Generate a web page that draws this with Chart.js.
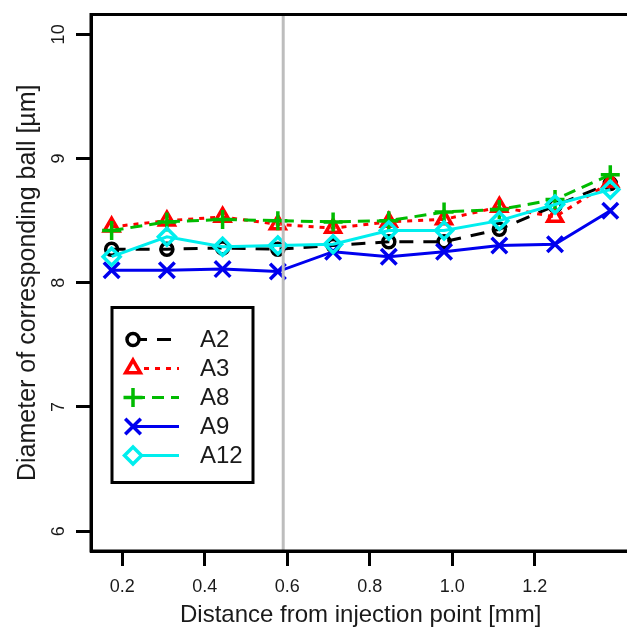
<!DOCTYPE html>
<html>
<head>
<meta charset="utf-8">
<script src="https://cdn.jsdelivr.net/npm/chart.js@4.4.1/dist/chart.umd.min.js"></script>
<style>
    html, body { margin: 0; padding: 0; background: #fff; overflow: hidden; }
    #holder { width: 627px; height: 631px; overflow: hidden; }
</style>
</head>
<body>
<div id="holder"><canvas id="diagram" width="645" height="631"></canvas></div>
<script type="text/javascript">
    // distance from injection point [mm]
    var distances = [0.174, 0.308, 0.443, 0.577, 0.711, 0.846, 0.980, 1.114, 1.249, 1.383];

    // diameter of corresponding ball [um], one list per sample
    var seriesA2  = [8.27, 8.27, 8.28, 8.27, 8.30, 8.33, 8.33, 8.43, 8.62, 8.80];
    var seriesA3  = [8.45, 8.50, 8.53, 8.47, 8.44, 8.49, 8.51, 8.61, 8.53, 8.81];
    var seriesA8  = [8.42, 8.49, 8.51, 8.50, 8.49, 8.50, 8.57, 8.59, 8.67, 8.87];
    var seriesA9  = [8.10, 8.10, 8.11, 8.09, 8.25, 8.21, 8.25, 8.30, 8.31, 8.58];
    var seriesA12 = [8.21, 8.37, 8.29, 8.30, 8.31, 8.42, 8.42, 8.50, 8.63, 8.75];

    var seriesNames = ['A2', 'A3', 'A8', 'A9', 'A12'];
    var xTicks = [0.2, 0.4, 0.6, 0.8, 1.0, 1.2];
    var yTicks = [6, 7, 8, 9, 10];
    var markerLineX = 0.59;   // grey vertical reference line

    var fontFamily = '"Liberation Sans", Arial, Helvetica, sans-serif';
    Chart.defaults.font.family = fontFamily;
    Chart.defaults.color = '#1a1a1a';

    function toPoints(values) {
        return values.map(function(v, i) {
            return {x: distances[i], y: v};
        });
    }

    var styles = [
        {color: '#000000', dash: [14, 10], point: 'circle',   radius: 6},
        {color: '#ff0000', dash: [5, 6],   point: 'triangle', radius: 8.5},
        {color: '#00bb00', dash: [12, 7],  point: 'cross',    radius: 9.5},
        {color: '#0000ee', dash: [],       point: 'crossRot', radius: 11},
        {color: '#00eeee', dash: [],       point: 'rectRot',  radius: 8.5}
    ];
    var allSeries = [seriesA2, seriesA3, seriesA8, seriesA9, seriesA12];

    var datasets = allSeries.map(function(values, i) {
        var s = styles[i];
        return {
            label: seriesNames[i],
            data: toPoints(values),
            showLine: true,
            borderColor: s.color,
            borderWidth: 3,
            borderDash: s.dash,
            pointStyle: s.point,
            pointRadius: s.radius,
            pointHoverRadius: s.radius,
            pointBorderColor: s.color,
            pointBackgroundColor: 'rgba(255,255,255,0)',
            pointBorderWidth: 3.5,
            order: allSeries.length - 1 - i
        };
    });

    // box, grey line, rotated y labels
    var framePlugin = {
        id: 'frame',
        afterDatasetsDraw: function(chart) {
            var ctx = chart.ctx, area = chart.chartArea;
            var xs = chart.scales.x;
            var px = xs.getPixelForValue(markerLineX);
            ctx.save();
            ctx.strokeStyle = '#bdbdbd';
            ctx.lineWidth = 3;
            ctx.beginPath();
            ctx.moveTo(px, area.top);
            ctx.lineTo(px, area.bottom);
            ctx.stroke();
            ctx.strokeStyle = '#000';
            ctx.lineWidth = 3;
            ctx.strokeRect(area.left, area.top, area.right - area.left, area.bottom - area.top);
            ctx.restore();
        },
        afterDraw: function(chart) {
            var ctx = chart.ctx;
            var ys = chart.scales.y;
            ctx.save();
            ctx.fillStyle = '#1a1a1a';
            ctx.font = '18px ' + fontFamily;
            ctx.textAlign = 'center';
            ctx.textBaseline = 'middle';
            yTicks.forEach(function(v) {
                var py = ys.getPixelForValue(v);
                ctx.save();
                ctx.translate(59, py);
                ctx.rotate(-Math.PI / 2);
                ctx.fillText(String(v), 0, 0);
                ctx.restore();
            });
            ctx.restore();
        }
    };

    // legend drawn inside the plot like the R one
    var legendPlugin = {
        id: 'boxLegend',
        afterDraw: function(chart) {
            var ctx = chart.ctx, area = chart.chartArea;
            var left = area.left + 21, top = area.top + 293;
            ctx.save();
            ctx.lineWidth = 3;
            ctx.strokeStyle = '#000';
            ctx.setLineDash([]);
            ctx.strokeRect(left, top, 141, 175);
            chart.data.datasets.forEach(function(ds, i) {
                var y = top + 32 + i * 29;
                var mx = left + 21;
                ctx.strokeStyle = ds.borderColor;
                ctx.lineWidth = 3;
                ctx.setLineDash(ds.borderDash);
                ctx.beginPath();
                ctx.moveTo(mx, y);
                ctx.lineTo(mx + 46, y);
                ctx.stroke();
                ctx.setLineDash([]);
                ctx.fillStyle = '#fff';
                ctx.lineWidth = 3.5;
                Chart.helpers.drawPoint(ctx, {
                    pointStyle: ds.pointStyle,
                    radius: ds.pointRadius,
                    borderWidth: 3.5,
                    rotation: 0
                }, mx, y);
                ctx.fillStyle = '#1a1a1a';
                ctx.font = '24px ' + fontFamily;
                ctx.textAlign = 'left';
                ctx.textBaseline = 'middle';
                ctx.fillText(ds.label, left + 88, y + 1);
            });
            ctx.restore();
        }
    };

    var ctx = document.getElementById('diagram');
    var chart = new Chart(ctx, {
        type: 'scatter',
        data: {datasets: datasets},
        options: {
            responsive: false,
            animation: false,
            devicePixelRatio: 1,
            layout: {padding: {top: 12, right: 13, left: 0, bottom: 0}},
            plugins: {
                legend: {display: false},
                tooltip: {enabled: false}
            },
            scales: {
                x: {
                    type: 'linear',
                    min: 0.124,
                    max: 1.432,
                    afterBuildTicks: function(scale) {
                        scale.ticks = xTicks.map(function(v) { return {value: v}; });
                    },
                    afterFit: function(scale) { scale.height = 80; },
                    ticks: {
                        font: {size: 18},
                        padding: 10,
                        maxRotation: 0,
                        callback: function(v) { return Number(v).toFixed(1); }
                    },
                    grid: {
                        drawOnChartArea: false,
                        drawTicks: true,
                        tickLength: 15,
                        tickWidth: 3,
                        tickColor: '#000'
                    },
                    border: {display: true, color: '#000', width: 3},
                    title: {
                        display: true,
                        text: 'Distance from injection point [mm]',
                        font: {size: 24},
                        padding: {top: 0, bottom: 1}
                    }
                },
                y: {
                    type: 'linear',
                    min: 5.84,
                    max: 10.16,
                    afterBuildTicks: function(scale) {
                        scale.ticks = yTicks.map(function(v) { return {value: v}; });
                    },
                    afterFit: function(scale) { scale.width = 91; },
                    ticks: {display: false},
                    grid: {
                        drawOnChartArea: false,
                        drawTicks: true,
                        tickLength: 15,
                        tickWidth: 3,
                        tickColor: '#000'
                    },
                    border: {display: true, color: '#000', width: 3},
                    title: {
                        display: true,
                        text: 'Diameter of corresponding ball [\u00b5m]',
                        font: {size: 25},
                        padding: {top: 13, bottom: 0}
                    }
                }
            }
        },
        plugins: [framePlugin, legendPlugin]
    });
</script>
</body>
</html>
